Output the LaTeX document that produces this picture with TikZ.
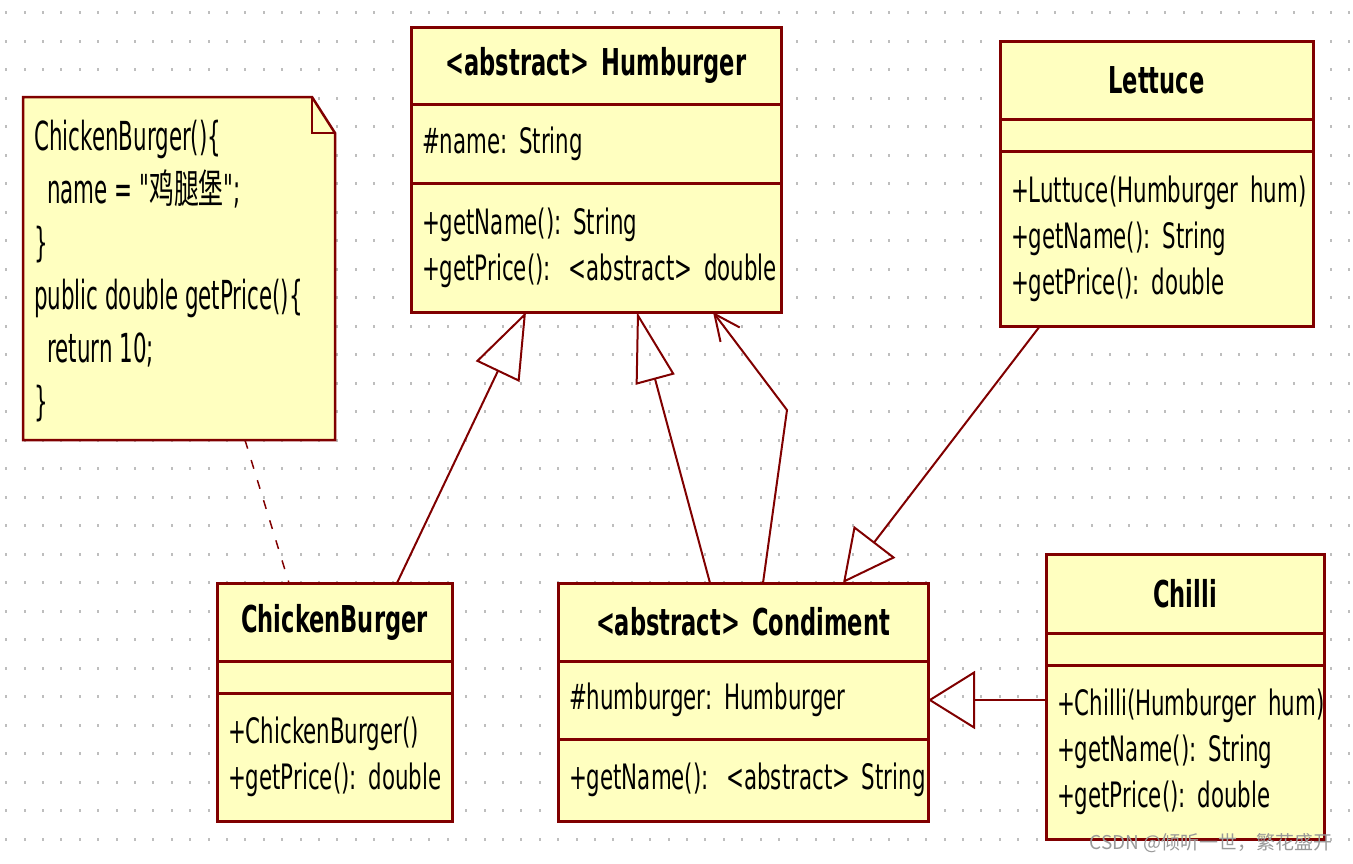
\documentclass[tikz,border=0pt]{standalone}
\usepackage{fontspec}
\setmainfont{DejaVu Sans}[FakeStretch=0.61]
\newfontfamily\notefont{DejaVu Sans}[FakeStretch=0.535]
\newfontfamily\cjkfont{Noto Sans CJK SC}[FakeStretch=0.62]
\newfontfamily\markfont{Noto Sans CJK SC}
\usetikzlibrary{positioning,arrows.meta}
\definecolor{umlred}{RGB}{128,0,0}
\definecolor{umlfill}{RGB}{255,255,192}
\definecolor{dotgray}{RGB}{190,190,190}
\newcommand\partfont{\fontsize{35}{46}\selectfont\spaceskip 0.2em\relax}
\newcommand\namefont{\bfseries\fontsize{37}{46}\selectfont\spaceskip 0.24em\relax}

\begin{document}
\hyphenpenalty=10000 \exhyphenpenalty=10000
\begin{tikzpicture}[x=1pt, y=-1pt,
    clspart/.style={draw=umlred, fill=umlfill, line width=3pt, outer sep=0pt, inner xsep=11pt, inner ysep=0pt,
      align=left, font=\partfont},
    clsname/.style={clspart, align=center, font=\namefont},
    notebox/.style={draw=umlred, fill=umlfill, line width=2.5pt, line join=miter},
    notetext/.style={inner sep=0pt, align=left, anchor=north west, font=\notefont\fontsize{40}{53}\selectfont},
    inh/.style 2 args={draw=umlred, line width=2pt, -{Triangle[open, length=#1, width=#2]}},
    assoc/.style={draw=umlred, line width=2pt, -{Straight Barb[length=26pt, width=24pt]}},
    notelink/.style={draw=umlred, line width=1.5pt, dash pattern=on 9pt off 12pt},
]
\useasboundingbox (0,0) rectangle (1353,863);

% dotted grid
\foreach \i in {0,...,73}
  \foreach \j in {0,...,29}
    \fill[dotgray] ({5.2+18.4*\i},{11+28.5*\j}) rectangle ++(2,3);

% note
\draw[notebox] (23,97) -- (312,97) -- (335,133) -- (335,440) -- (23,440) -- cycle;
\draw[notebox, fill=none] (312,97) -- (312,133) -- (335,133);
\node[notetext] (note) at (34,120)
  {ChickenBurger()\{\\\hspace*{13pt}name = "{\cjkfont 鸡腿堡}";\\\}\\public double getPrice()\{\\\hspace*{13pt}return 10;\\\}};
\coordinate (noteend) at (245,440);

% Humburger
\node[clsname, text width=348pt, minimum height=77pt, anchor=north west] (humname) at (411,27) {<abstract>~Humburger};
\node[clspart, text width=348pt, minimum height=79pt, below=0pt of humname] (humattr) {\#name:~String};
\node[clspart, text width=348pt, minimum height=129pt, below=0pt of humattr] (hummeth)
  {+getName():~String\\+getPrice():~\hspace{6pt}<abstract>~double};

% Lettuce
\node[clsname, text width=291pt, minimum height=78pt, anchor=north west] (letname) at (1000,41) {Lettuce};
\node[clspart, text width=291pt, minimum height=32pt, below=0pt of letname] (letattr) {};
\node[clspart, text width=291pt, minimum height=175pt, below=0pt of letattr] (letmeth)
  {+Luttuce(Humburger~hum)\\+getName():~String\\+getPrice():~double};

% ChickenBurger
\node[clsname, text width=213pt, minimum height=78pt, anchor=north west] (cbname) at (217,583) {ChickenBurger};
\node[clspart, text width=213pt, minimum height=32pt, below=0pt of cbname] (cbattr) {};
\node[clspart, text width=213pt, minimum height=128pt, below=0pt of cbattr] (cbmeth)
  {+ChickenBurger()\\+getPrice():~double};

% Condiment
\node[clsname, text width=348pt, minimum height=78pt, anchor=north west] (condname) at (558,583) {<abstract>~Condiment};
\node[clspart, text width=348pt, minimum height=78pt, below=0pt of condname] (condattr) {\#humburger:~Humburger};
\node[clspart, text width=348pt, minimum height=82pt, below=0pt of condattr] (condmeth)
  {+getName():~\hspace{6pt}<abstract>~String};

% Chilli
\node[clsname, text width=256pt, minimum height=79pt, anchor=north west] (chiname) at (1046,554) {Chilli};
\node[clspart, text width=256pt, minimum height=32pt, below=0pt of chiname] (chiattr) {};
\node[clspart, text width=256pt, minimum height=174pt, below=0pt of chiattr] (chimeth)
  {+Chilli(Humburger~hum)\\+getName():~String\\+getPrice():~double};

% relations
\coordinate (bend) at (787,410);
\draw[inh={66pt}{48pt}] ([xshift=62.5pt]cbname.north) -- ([xshift=-70pt]hummeth.south);
\draw[inh={70pt}{40pt}] ([xshift=-33pt]condname.north) -- ([xshift=41pt]hummeth.south);
\draw[assoc] ([xshift=20pt]condname.north) -- (bend) -- ([xshift=117pt]hummeth.south);
\draw[inh={52pt}{52pt}] ([xshift=-116.5pt]letmeth.south) -- ([xshift=100pt]condname.north);
\draw[inh={47pt}{58pt}] (chimeth.west |- condattr.east) -- (condattr.east);
\draw[notelink] (noteend) -- ([xshift=-45.5pt]cbname.north);

\node[font=\markfont\fontsize{19}{19}\selectfont, text=black!40] (mark) at (1211,843) {CSDN @倾听一世，繁花盛开};
\end{tikzpicture}
\end{document}
